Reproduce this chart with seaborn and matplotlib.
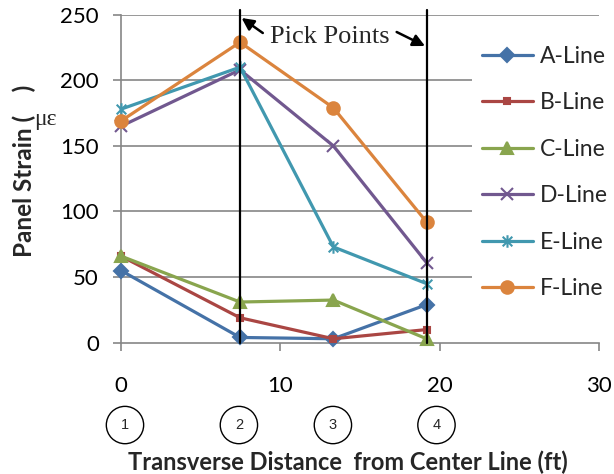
import matplotlib
matplotlib.use("Agg")
import matplotlib.pyplot as plt
import seaborn as sns
import numpy as np
from matplotlib.path import Path
from matplotlib.lines import Line2D

# ---- data ----
x_pos = [0, 7.47, 13.33, 19.18]
series_names = ["A-Line", "B-Line", "C-Line", "D-Line", "E-Line", "F-Line"]
a_line = [55, 4, 3, 29]
b_line = [66, 19, 3, 10]
c_line = [66, 31, 32.5, 3]
d_line = [165, 208, 150, 61]
e_line = [178, 210, 73, 45]
f_line = [169, 229, 179, 92]
values = [a_line, b_line, c_line, d_line, e_line, f_line]
x_ticks = [0, 10, 20, 30]
y_ticks = [0, 50, 100, 150, 200, 250]
pick_x = [7.47, 19.18]
circle_x = [0.25, 7.4, 13.3, 19.8]
circle_labels = ["1", "2", "3", "4"]

colors = ["#4572A7", "#AA4643", "#89A54E", "#71588F", "#4198AF", "#DB843D"]
star = Path([(-1, -1), (1, 1), (-1, 1), (1, -1), (0, -1.3), (0, 1.3)],
            [Path.MOVETO, Path.LINETO, Path.MOVETO, Path.LINETO, Path.MOVETO, Path.LINETO])
markers = ["D", "s", "^", "x", star, "o"]
msizes = [7, 4.5, 9, 9, 9, 9]
filled = [True, True, True, False, False, True]

sns.set_theme(style="white")
plt.rcParams["font.family"] = ["Lato", "DejaVu Sans"]

fig = plt.figure(figsize=(6.14, 4.74), dpi=100)
ax = fig.add_axes([121/614, 1-342.7/474, 478/614, 328/474])

grid_c = "#868686"
for yv in y_ticks[1:]:
    ax.axhline(yv, color=grid_c, lw=1.2, zorder=0.5)

handles = []
for name, vals, c, m, ms, f in zip(series_names, values, colors, markers, msizes, filled):
    kw = dict(marker=m, markersize=ms, markeredgecolor=c, markeredgewidth=1.5)
    if f:
        kw["markerfacecolor"] = c
    else:
        kw["markerfacecolor"] = "none"
    sns.lineplot(x=x_pos, y=vals, ax=ax, color=c, lw=2.3, legend=False, clip_on=False,
                 zorder=3, **kw)
    handles.append(Line2D([], [], color=c, lw=2.3, **kw))

for px in pick_x:
    ax.axvline(px, ymin=0, ymax=1.014, color="black", lw=1.6, clip_on=False, zorder=4)

ax.set_xlim(0, 30)
ax.set_ylim(0, 250)
ax.set_xticks(x_ticks)
ax.set_yticks(y_ticks)
for s in ["top", "right"]:
    ax.spines[s].set_visible(False)
for s in ["left", "bottom"]:
    ax.spines[s].set_color(grid_c)
    ax.spines[s].set_linewidth(1.2)
ax.tick_params(axis="x", direction="out", length=6, width=1.2, color=grid_c,
               labelsize=16, pad=18, labelcolor="black", bottom=True)
ax.tick_params(axis="y", direction="out", length=6, width=1.2, color=grid_c,
               labelsize=16, pad=10, labelcolor="black", left=True)

ax.set_xlabel("Transverse Distance  from Center Line (ft)", fontsize=17,
              fontweight="bold")
ax.xaxis.set_label_coords(0.474, -0.328)
ax.set_ylabel("Panel Strain (    )", fontsize=17.5, fontweight="bold")
ax.yaxis.set_label_coords(-0.178, 0.523)
fig.text(45/614, 1-120/474, "με", fontsize=17, family="Liberation Serif",
         ha="center", va="center")

leg = ax.legend(handles, series_names, loc="upper left", bbox_to_anchor=(0.734, 0.936),
                borderaxespad=0, frameon=True, fontsize=16.5, labelspacing=1.11,
                handlelength=2.2, handletextpad=0.3, borderpad=0.45)
leg.get_frame().set_facecolor("white")
leg.get_frame().set_edgecolor("none")
leg.get_frame().set_alpha(1)
leg.set_zorder(2)

# Pick Points annotation
ax.text(13.1, 1.0 - (37-14.7)/328, "Pick Points", transform=ax.get_xaxis_transform(),
        ha="center", va="center", fontsize=19, family="Liberation Serif", zorder=6)
arrow_kw = dict(arrowstyle="-|>,head_length=0.6,head_width=0.3", color="black", lw=1.8,
                shrinkA=0, shrinkB=0)
ax.annotate("", xy=(pick_x[0] + 0.1, 1.0 - (18-14.7)/328), xycoords=ax.get_xaxis_transform(),
            xytext=(8.9, 1.0 - (33-14.7)/328), textcoords=ax.get_xaxis_transform(),
            arrowprops=arrow_kw, annotation_clip=False)
ax.annotate("", xy=(pick_x[1] - 0.1, 1.0 - (46-14.7)/328), xycoords=ax.get_xaxis_transform(),
            xytext=(17.3, 1.0 - (32-14.7)/328), textcoords=ax.get_xaxis_transform(),
            arrowprops=arrow_kw, annotation_clip=False)

for cx, lab in zip(circle_x, circle_labels):
    ax.text(cx, -0.251, lab, transform=ax.get_xaxis_transform(), ha="center", va="center",
            fontsize=10.5, family="Liberation Sans",
            bbox=dict(boxstyle="circle,pad=0.8", fc="white", ec="black", lw=1.0),
            clip_on=False)

fig.savefig("out.png", dpi=100)
